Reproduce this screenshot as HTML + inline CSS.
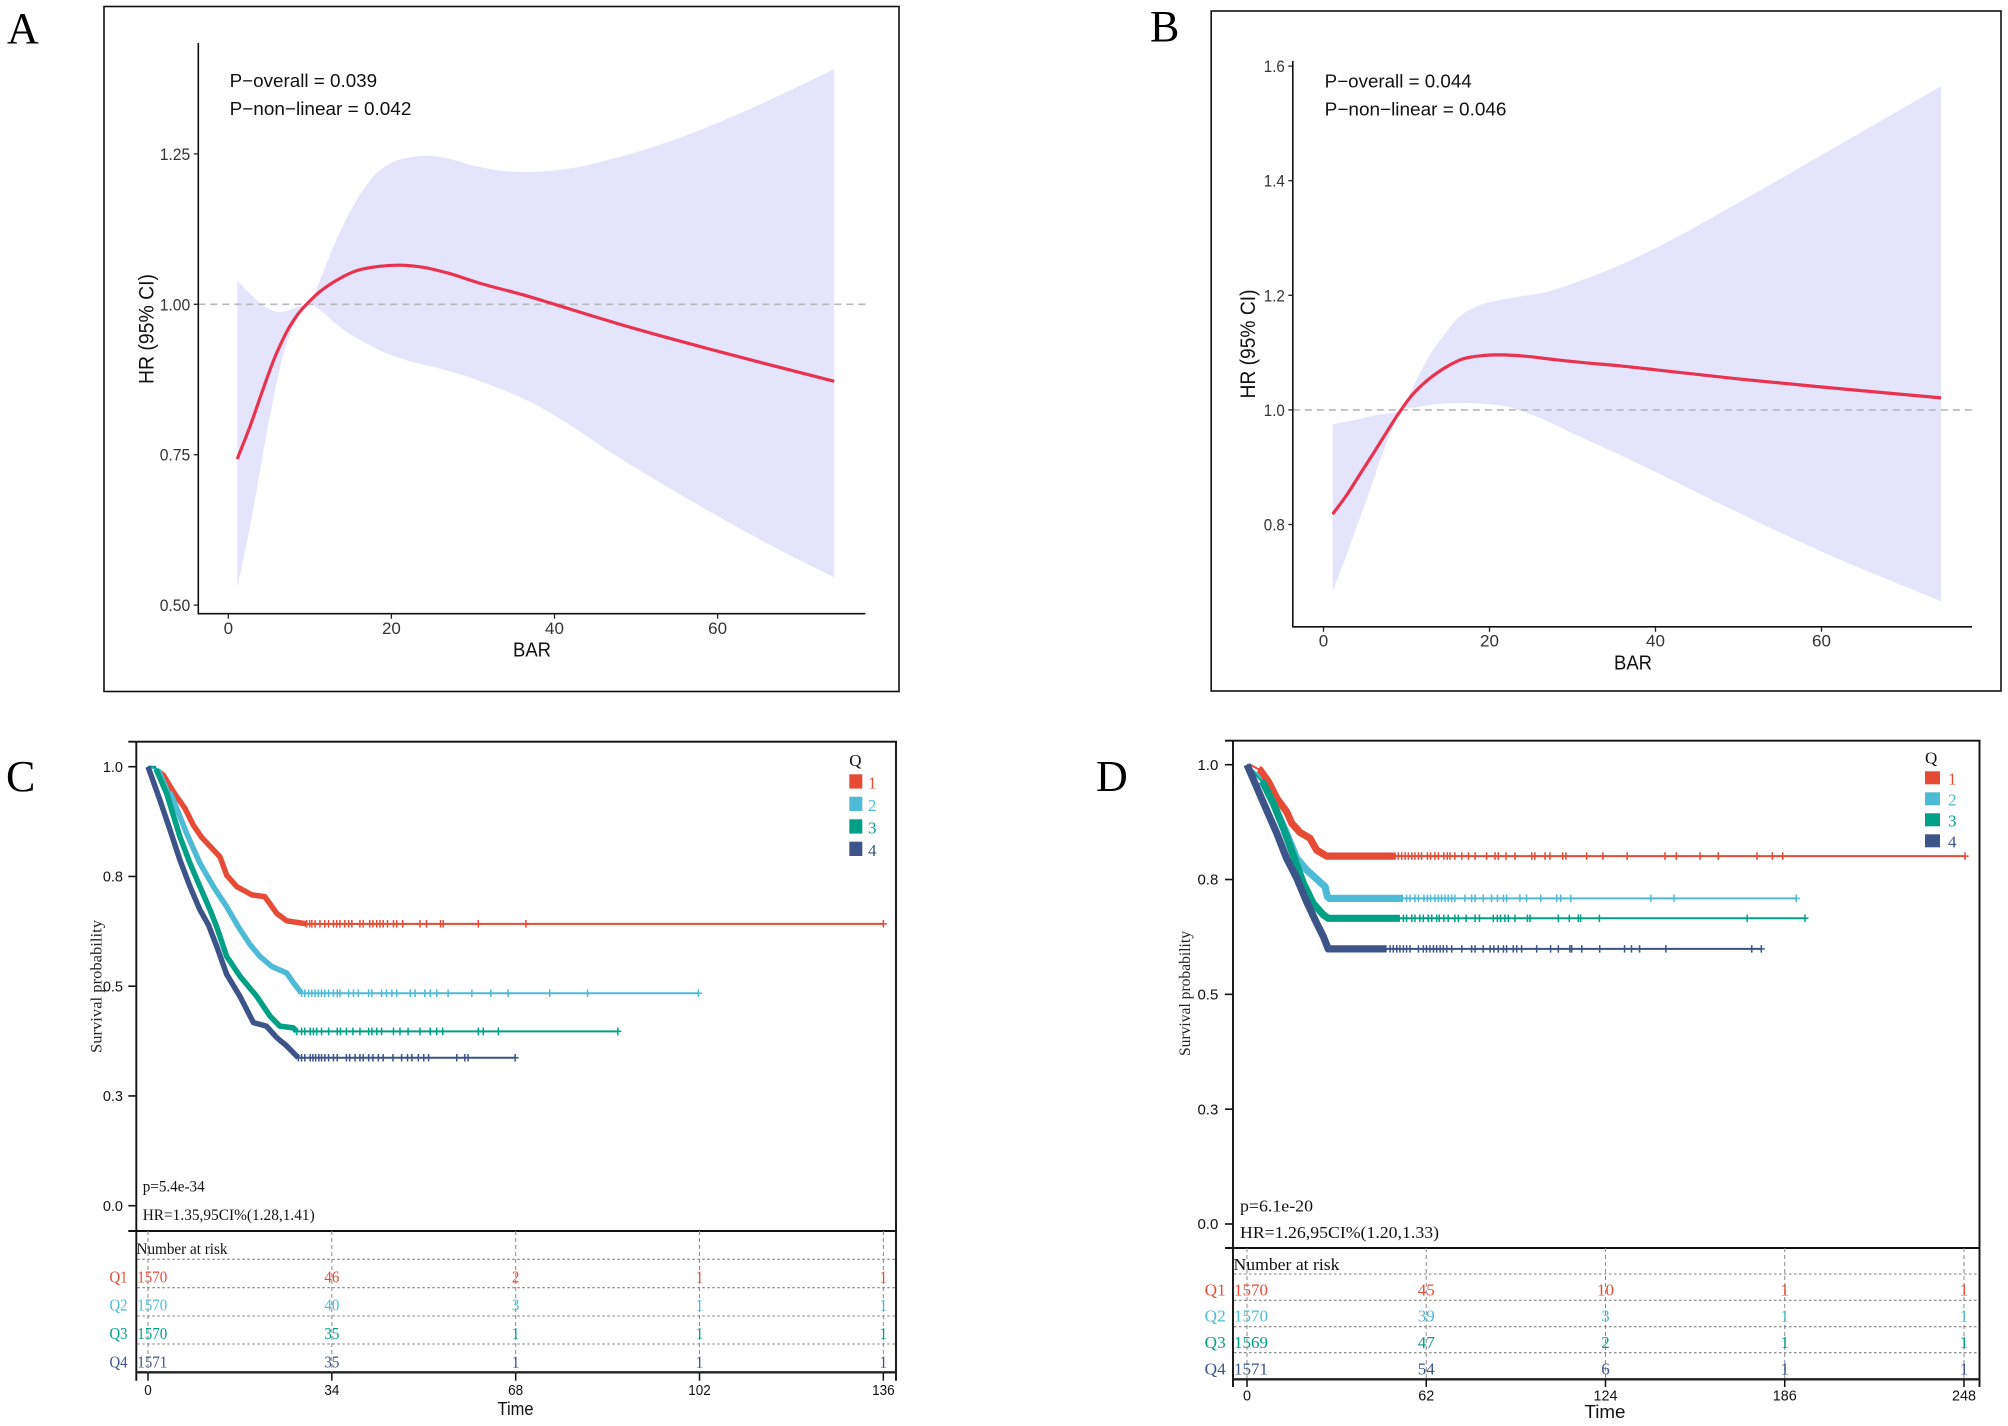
<!DOCTYPE html>
<html lang="en">
<head>
<meta charset="utf-8">
<title>Restricted cubic spline and Kaplan-Meier panels</title>
<style>
html,body{margin:0;padding:0;background:#fff;}
svg{display:block;}
.sans{font-family:"Liberation Sans",Arial,sans-serif;}
.serif{font-family:"Liberation Serif","Times New Roman",serif;}
</style>
</head>
<body>
<svg id="figure" xmlns="http://www.w3.org/2000/svg" width="2008" height="1426" viewBox="0 0 2008 1426">
<rect x="0" y="0" width="2008" height="1426" fill="#fff"/>

<text class="serif" x="7" y="43" font-size="44" fill="#000">A</text>
<text class="serif" x="1150" y="41" font-size="44" fill="#000">B</text>
<text class="serif" x="6" y="791" font-size="44" fill="#000">C</text>
<text class="serif" x="1096" y="791" font-size="44" fill="#000">D</text>

<rect x="104" y="6.5" width="795" height="685" fill="none" stroke="#111" stroke-width="1.6"/>
<rect x="1211.2" y="11" width="789.8" height="680" fill="none" stroke="#111" stroke-width="1.6"/>

<g id="panel-a"></g>
<g id="panel-b"></g>
<g id="panel-c"></g>
<g id="panel-d"></g>

<text class="sans" x="229.6" y="87" font-size="18.5" fill="#111" textLength="147.5" lengthAdjust="spacingAndGlyphs">P−overall = 0.039</text>
<text class="sans" x="229.6" y="115" font-size="18.5" fill="#111" textLength="181.8" lengthAdjust="spacingAndGlyphs">P−non−linear = 0.042</text>
<text class="sans" x="513" y="656.7" font-size="20" fill="#111" textLength="38" lengthAdjust="spacingAndGlyphs">BAR</text>
<text class="sans" transform="translate(153.7,384) rotate(-90)" x="0" y="0" font-size="21" fill="#111" textLength="110" lengthAdjust="spacingAndGlyphs">HR (95% CI)</text>

<text class="sans" x="1324.7" y="87.4" font-size="18.5" fill="#111" textLength="147" lengthAdjust="spacingAndGlyphs">P−overall = 0.044</text>
<text class="sans" x="1324.7" y="115.5" font-size="18.5" fill="#111" textLength="181.8" lengthAdjust="spacingAndGlyphs">P−non−linear = 0.046</text>
<text class="sans" x="1614" y="669.4" font-size="20" fill="#111" textLength="38" lengthAdjust="spacingAndGlyphs">BAR</text>
<text class="sans" transform="translate(1255,398.5) rotate(-90)" x="0" y="0" font-size="21" fill="#111" textLength="109" lengthAdjust="spacingAndGlyphs">HR (95% CI)</text>

<text class="serif" transform="translate(101.5,1053) rotate(-90)" x="0" y="0" font-size="16" fill="#222" textLength="133" lengthAdjust="spacingAndGlyphs">Survival probability</text>
<text class="serif" x="142.7" y="1191.7" font-size="16" fill="#111" textLength="62" lengthAdjust="spacingAndGlyphs">p=5.4e-34</text>
<text class="serif" x="142.7" y="1220" font-size="16" fill="#111" textLength="172" lengthAdjust="spacingAndGlyphs">HR=1.35,95CI%(1.28,1.41)</text>
<text class="serif" x="136.5" y="1254" font-size="16" fill="#111" textLength="91" lengthAdjust="spacingAndGlyphs">Number at risk</text>
<text class="sans" x="497.5" y="1415" font-size="18" fill="#111" textLength="36" lengthAdjust="spacingAndGlyphs">Time</text>
<text class="serif" x="849.3" y="766" font-size="17" fill="#111">Q</text>

<text class="serif" transform="translate(1190,1056) rotate(-90)" x="0" y="0" font-size="16" fill="#222" textLength="125" lengthAdjust="spacingAndGlyphs">Survival probability</text>
<text class="serif" x="1240" y="1211.7" font-size="17" fill="#111" textLength="73" lengthAdjust="spacingAndGlyphs">p=6.1e-20</text>
<text class="serif" x="1240" y="1238" font-size="17" fill="#111" textLength="199" lengthAdjust="spacingAndGlyphs">HR=1.26,95CI%(1.20,1.33)</text>
<text class="serif" x="1233.5" y="1270" font-size="17" fill="#111" textLength="106" lengthAdjust="spacingAndGlyphs">Number at risk</text>
<text class="sans" x="1584.5" y="1418" font-size="18" fill="#111" textLength="41" lengthAdjust="spacingAndGlyphs">Time</text>
<text class="serif" x="1925" y="763.3" font-size="17" fill="#111">Q</text>
</svg>

<script>
/* ---------- Panel A data ---------- */
const aXTicks = [0, 20, 40, 60];
const aYTicks = [0.5, 0.75, 1, 1.25];
const aYTickLabels = ['0.50', '0.75', '1.00', '1.25'];
const aLineX = [1.1, 2.66, 4.29, 5.93, 7.57, 8.79, 9.81, 11.24, 13.29, 15.75, 18.2, 21.05, 23.9, 26.77, 30.86, 36.99, 40, 50, 60, 74.3];
const aLineY = [0.743, 0.797, 0.86, 0.919, 0.964, 0.988, 1.003, 1.021, 1.04, 1.056, 1.0625, 1.065, 1.0615, 1.0525, 1.035, 1.0125, 1.0, 0.959, 0.922, 0.872];
const aUpperX = [1.1, 2.66, 4.29, 6.25, 7.97, 9.81, 11.24, 12.88, 14.52, 16.55, 18.6, 20.65, 22.69, 24.33, 26.78, 29.64, 32.91, 36.99, 42, 48, 55, 62, 68, 74.3];
const aUpperY = [1.039, 1.018, 0.998, 0.987, 0.993, 1.003, 1.04, 1.096, 1.143, 1.19, 1.223, 1.239, 1.245, 1.247, 1.243, 1.232, 1.223, 1.22, 1.226, 1.245, 1.275, 1.313, 1.35, 1.391];
const aLowerX = [1.1, 2.26, 3.48, 4.71, 5.93, 7.16, 8.39, 9.81, 11.24, 12.88, 14.52, 16.55, 19, 21.88, 25.14, 28.82, 32.91, 36.99, 41, 47, 53.4, 60, 66, 74.3];
const aLowerY = [0.53, 0.603, 0.691, 0.786, 0.869, 0.935, 0.974, 1.0005, 0.9905, 0.971, 0.954, 0.938, 0.921, 0.907, 0.896, 0.882, 0.862, 0.838, 0.807, 0.753, 0.7, 0.648, 0.603, 0.546];

/* ---------- Panel B data ---------- */
const bXTicks = [0, 20, 40, 60];
const bYTicks = [0.8, 1, 1.2, 1.4, 1.6];
const bYTickLabels = ['0.8', '1.0', '1.2', '1.4', '1.6'];
const bLineX = [1.1, 2.8, 4.4, 6, 7.6, 9.2, 10.8, 12.8, 14.8, 16.8, 19.3, 21.5, 24.1, 27.7, 31.7, 35.7, 40, 50, 60, 74.4];
const bLineY = [0.818, 0.8515, 0.888, 0.924, 0.961, 0.997, 1.028, 1.055, 1.075, 1.089, 1.095, 1.096, 1.094, 1.088, 1.082, 1.077, 1.07, 1.054, 1.04, 1.021];
const bUpperX = [1.1, 3.6, 6.4, 9.2, 10.4, 11.6, 13.2, 14.8, 16.4, 18.5, 20.9, 23.7, 26.9, 30.1, 32.9, 35, 40.1, 49.8, 60.3, 74.4];
const bUpperY = [0.975, 0.982, 0.991, 1.0, 1.029, 1.064, 1.105, 1.136, 1.163, 1.181, 1.191, 1.198, 1.206, 1.221, 1.236, 1.248, 1.283, 1.36, 1.447, 1.565];
const bLowerX = [1.1, 2.4, 4, 5.6, 7.2, 8.4, 9.4, 11.2, 13.6, 16.8, 19.7, 22.5, 25.7, 29.7, 35.7, 39.4, 49.8, 60.3, 74.4];
const bLowerY = [0.684, 0.732, 0.796, 0.86, 0.927, 0.971, 1.0, 1.0045, 1.01, 1.012, 1.01, 1.0045, 0.988, 0.9615, 0.9215, 0.896, 0.822, 0.751, 0.666];

/* ---------- Panel C data ---------- */
const cXTicks = [0, 34, 68, 102, 136];
const cYTicks = [0, 0.25, 0.5, 0.75, 1];
const cYTickLabels = ['0.0', '0.3', '0.5', '0.8', '1.0'];
const cQ1Time = [0, 0.68, 2.83, 4.68, 6.84, 8.38, 9.93, 13.3, 14.55, 16.4, 19.2, 21.6, 23.8, 25.65, 29.35];
const cQ1Surv = [1, 1, 0.981, 0.943, 0.905, 0.867, 0.839, 0.795, 0.753, 0.727, 0.708, 0.704, 0.666, 0.649, 0.642];
const cQ2Time = [0, 2.2, 4.68, 7.15, 9.6, 12.1, 14.55, 16.7, 18.87, 20.7, 22.87, 25.65, 26.9, 28.4];
const cQ2Surv = [1, 0.9925, 0.924, 0.848, 0.78, 0.727, 0.681, 0.6355, 0.595, 0.568, 0.545, 0.53, 0.508, 0.484];
const cQ3Time = [0, 1.3, 3.45, 5.9, 7.77, 9.6, 11.47, 12.7, 14.55, 17, 20.1, 22.56, 24.4, 26.9, 27.5];
const cQ3Surv = [1, 1, 0.939, 0.8406, 0.78, 0.727, 0.674, 0.6355, 0.568, 0.523, 0.477, 0.432, 0.409, 0.405, 0.397];
const cQ4Time = [0, 2.2, 4.07, 5.92, 7.77, 9.6, 11.2, 12.7, 14.55, 17, 19.5, 21.9, 23.8, 25.65, 27.8];
const cQ4Surv = [1, 0.924, 0.856, 0.787, 0.727, 0.674, 0.639, 0.591, 0.527, 0.477, 0.417, 0.409, 0.383, 0.364, 0.337];
const cQ1Censor = [29.35, 29.9, 30.3, 30.9, 31.8, 32.7, 33.4, 34.3, 34.9, 35.5, 36.4, 37.1, 37.7, 39.2, 39.8, 41, 41.6, 42.3, 42.9, 43.5, 44.3, 45.4, 46, 47.1, 50.3, 51.5, 54.1, 54.6, 61.1, 69.9, 136];
const cQ2Censor = [28.4, 29, 29.7, 30.3, 30.9, 31.5, 32.1, 32.7, 33.4, 34.3, 35, 35.5, 37.1, 38, 38.9, 40.8, 41.4, 43.2, 44.1, 45.1, 46, 48.5, 49.4, 51.2, 52.2, 53.4, 55.5, 59.9, 63.4, 66.6, 74.3, 81.3, 101.8];
const cQ3Censor = [27.5, 28.4, 29, 30, 30.6, 31.2, 32.1, 33.4, 35, 35.6, 36.7, 37.9, 39.2, 40.8, 41.4, 42.3, 43.2, 45.4, 46.6, 48.1, 50.3, 52.2, 53.4, 54.5, 61.1, 62, 64.8, 86.9];
const cQ4Censor = [27.8, 28.4, 29, 30, 30.5, 31, 31.6, 32.1, 32.7, 33.4, 34.3, 35, 36.7, 37.3, 38.3, 39.2, 39.8, 40.8, 41.6, 42.6, 43.5, 45.3, 46.9, 48, 48.8, 50, 51, 51.9, 57.1, 58.6, 59.2, 67.9];
const cDenseStart = [2, 4, 1.5, 0];
const cDenseEnd = [29.35, 28.4, 27.5, 27.8];
const cRiskQ1 = [1570, 46, 2, 1, 1];
const cRiskQ2 = [1570, 40, 3, 1, 1];
const cRiskQ3 = [1570, 35, 1, 1, 1];
const cRiskQ4 = [1571, 35, 1, 1, 1];

/* ---------- Panel D data ---------- */
const dXTicks = [0, 62, 124, 186, 248];
const dYTicks = [0, 0.25, 0.5, 0.75, 1];
const dYTickLabels = ['0.0', '0.3', '0.5', '0.8', '1.0'];
const dQ1Time = [0, 1.1, 4.5, 7.4, 10.3, 13.7, 15.5, 18.3, 21.8, 24.1, 27.6];
const dQ1Surv = [1, 1, 0.9885, 0.963, 0.927, 0.8977, 0.8724, 0.8528, 0.8397, 0.814, 0.801];
const dQ2Time = [0, 4.5, 9.1, 13.7, 17.2, 20.6, 24.1, 27, 27.8, 28.5];
const dQ2Surv = [1, 0.974, 0.916, 0.8506, 0.796, 0.771, 0.751, 0.7345, 0.7127, 0.709];
const dQ3Time = [0, 5.65, 9.1, 12.6, 16, 19.5, 22.9, 26.4, 28.1];
const dQ3Surv = [1, 0.9595, 0.916, 0.8615, 0.803, 0.742, 0.698, 0.673, 0.6656];
const dQ4Time = [0, 3.3, 6.8, 10.3, 13.7, 17.2, 20.6, 24.1, 26.4, 28.1];
const dQ4Surv = [1, 0.952, 0.901, 0.851, 0.796, 0.753, 0.702, 0.655, 0.626, 0.599];
const dQ1Censor = [52.3, 53.5, 54.7, 55.8, 57, 58.1, 59.3, 60.4, 62.4, 63.5, 65, 66.2, 68.1, 69.3, 70.2, 71.9, 74.3, 76.6, 78.9, 82.9, 85.8, 86.9, 89.6, 92.7, 98.5, 99.6, 103.1, 104.8, 109.2, 110.3, 117.5, 123.1, 131.5, 144.6, 148.5, 156.7, 163, 176.4, 181.7, 185.3, 248.4];
const dQ2Censor = [55.2, 56.4, 58.1, 59.3, 61.2, 62.4, 63.5, 65, 66.2, 67.3, 68.5, 69.6, 70.8, 71.9, 75.4, 77.7, 78.9, 81.7, 84.6, 86.6, 88.7, 89.8, 94.4, 96.7, 101.6, 107.1, 108.5, 112, 139.7, 147.7, 190];
const dQ3Censor = [54.1, 55.2, 57, 58.1, 59.8, 61, 62.7, 63.9, 65.6, 66.5, 68.1, 69.6, 71.9, 73.1, 75.8, 78.9, 80.4, 85.2, 86.6, 87.7, 89.2, 90.4, 92.7, 97, 97.9, 107.7, 111.5, 114.6, 115.4, 121.9, 173, 193];
const dQ4Censor = [49.5, 50.6, 51.8, 52.9, 54.1, 55.2, 56.4, 59.3, 61, 62.1, 63.3, 64.5, 65.6, 66.8, 67.9, 69.1, 70.8, 74.3, 77.7, 78.9, 81.7, 84.1, 85.4, 86.9, 88.7, 89.8, 92.1, 93.3, 95, 100.2, 105, 107.7, 111.7, 112.3, 115.8, 122, 130.6, 133, 135.8, 144.9, 174.6, 177.9];
const dDenseStart = [4, 7, 5, 0];
const dDenseEnd = [51.5, 54, 52.9, 48.3];
const dRiskQ1 = [1570, 45, 10, 1, 1];
const dRiskQ2 = [1570, 39, 3, 1, 1];
const dRiskQ3 = [1569, 47, 2, 1, 1];
const dRiskQ4 = [1571, 54, 6, 1, 1];

/* ---------- Shared categories ---------- */
const groupKeys = ['1', '2', '3', '4'];
const groupRowLabels = ['Q1', 'Q2', 'Q3', 'Q4'];

/* ---------- Helpers ---------- */
const NS = 'http://www.w3.org/2000/svg';
const GROUP_COLORS = ['#E64B35', '#4DBBD5', '#00A087', '#3C5488'];
const SANS = '"Liberation Sans", Arial, sans-serif';
const SERIF = '"Liberation Serif", "Times New Roman", serif';

function svgEl(parent, tag, attrs, text) {
  const el = document.createElementNS(NS, tag);
  for (const k in attrs) el.setAttribute(k, attrs[k]);
  if (text !== undefined) el.textContent = text;
  parent.appendChild(el);
  return el;
}

function linearScale(anchorPx, anchorValue, pxPerUnit) {
  return v => anchorPx + (v - anchorValue) * pxPerUnit;
}

/* Non-uniform Catmull-Rom: tangents weighted by knot spacing so uneven samples do not kink */
function smoothPath(pts) {
  const n = pts.length;
  const tan = pts.map((p, i) => {
    if (i === 0) return [(pts[1][0] - p[0]), (pts[1][1] - p[1])];
    if (i === n - 1) return [(p[0] - pts[i - 1][0]), (p[1] - pts[i - 1][1])];
    const a = pts[i - 1];
    const b = pts[i + 1];
    const d1 = Math.hypot(p[0] - a[0], p[1] - a[1]) || 1;
    const d2 = Math.hypot(b[0] - p[0], b[1] - p[1]) || 1;
    return [
      ((p[0] - a[0]) / d1 * d2 + (b[0] - p[0]) / d2 * d1) / (d1 + d2),
      ((p[1] - a[1]) / d1 * d2 + (b[1] - p[1]) / d2 * d1) / (d1 + d2)
    ];
  });
  let d = 'M' + pts[0][0].toFixed(2) + ' ' + pts[0][1].toFixed(2);
  for (let i = 0; i < n - 1; i++) {
    const p1 = pts[i];
    const p2 = pts[i + 1];
    const seg = Math.hypot(p2[0] - p1[0], p2[1] - p1[1]);
    const s1 = i === 0 ? 1 / 3 : seg / 3;
    const s2 = i === n - 2 ? 1 / 3 : seg / 3;
    d += 'C' + (p1[0] + tan[i][0] * s1).toFixed(2) + ' ' + (p1[1] + tan[i][1] * s1).toFixed(2) + ' ' +
         (p2[0] - tan[i + 1][0] * s2).toFixed(2) + ' ' + (p2[1] - tan[i + 1][1] * s2).toFixed(2) + ' ' +
         p2[0].toFixed(2) + ' ' + p2[1].toFixed(2);
  }
  return d;
}

function toPoints(xArr, yArr, xs, ys) {
  return xArr.map((x, i) => [xs(x), ys(yArr[i])]);
}

function survivalAt(times, surv, t) {
  if (t >= times[times.length - 1]) return surv[surv.length - 1];
  for (let i = 0; i < times.length - 1; i++) {
    if (t <= times[i + 1]) {
      const f = (t - times[i]) / (times[i + 1] - times[i]);
      return surv[i] + f * (surv[i + 1] - surv[i]);
    }
  }
  return surv[0];
}

/* ---------- Spline panels ---------- */
function drawSpline(p) {
  const g = document.getElementById(p.id);
  const band = svgEl(g, 'path', {
    d: smoothPath(toPoints(p.upperX, p.upperY, p.xs, p.ys)) + 'L' +
       smoothPath(toPoints(p.lowerX, p.lowerY, p.xs, p.ys).reverse()).slice(1) + 'Z',
    fill: '#E4E4FC', stroke: 'none'
  });
  
  

  const ref = svgEl(g, 'line', {
    x1: p.axisLeft, x2: p.axisRight, y1: p.ys(1), y2: p.ys(1),
    stroke: '#b9b9b9', 'stroke-width': 1.6, 'stroke-dasharray': '7 5'
  });
  
  

  const line = svgEl(g, 'path', {
    d: smoothPath(toPoints(p.lineX, p.lineY, p.xs, p.ys)),
    fill: 'none', stroke: '#E8324E', 'stroke-width': 3.2, 'stroke-linecap': 'butt'
  });
  
  

  const yAxis = svgEl(g, 'line', {
    x1: p.axisLeft, x2: p.axisLeft, y1: p.axisTop, y2: p.axisBottom + 0.8, stroke: '#111', 'stroke-width': 1.6
  });
  
  

  const xAxis = svgEl(g, 'line', {
    x1: p.axisLeft, x2: p.axisRight, y1: p.axisBottom, y2: p.axisBottom, stroke: '#111', 'stroke-width': 1.6
  });
  
  

  p.xTicks.forEach(v => {
    const tick = svgEl(g, 'line', {
      x1: p.xs(v), x2: p.xs(v), y1: p.axisBottom, y2: p.axisBottom + 5, stroke: '#222', 'stroke-width': 1.3
    });
    
    
    const label = svgEl(g, 'text', {
      x: p.xs(v), y: p.xTickBaseline, 'text-anchor': 'middle', 'font-family': SANS, 'font-size': 17, fill: '#333'
    }, String(v));
    
    
  });

  p.yTicks.forEach((v, i) => {
    const tick = svgEl(g, 'line', {
      x1: p.axisLeft - 4.5, x2: p.axisLeft, y1: p.ys(v), y2: p.ys(v), stroke: '#222', 'stroke-width': 1.3
    });
    
    
    const label = svgEl(g, 'text', {
      x: p.axisLeft - 8, y: p.ys(v) + 6, 'text-anchor': 'end', 'font-family': SANS, 'font-size': 17, fill: '#333',
      textLength: p.yLabelWidth, lengthAdjust: 'spacingAndGlyphs'
    }, p.yLabels[i]);
    
    
  });
}

/* ---------- Survival panels ---------- */
function drawSurvival(p) {
  const g = document.getElementById(p.id);

  p.series.forEach((s, i) => {
    const lastT = s.censor[s.censor.length - 1];
    const pts = s.time.map((t, k) => [p.xs(t), p.ys(s.surv[k])]);
    const endY = p.ys(survivalAt(s.time, s.surv, lastT));

    const thin = svgEl(g, 'path', {
      d: 'M' + pts.map(q => q[0].toFixed(2) + ' ' + q[1].toFixed(2)).join('L') + 'L' + p.xs(lastT).toFixed(2) + ' ' + endY.toFixed(2),
      fill: 'none', stroke: GROUP_COLORS[i], 'stroke-width': 2
    });
    
    

    const denseTimes = [s.denseStart].concat(s.time.filter(t => t > s.denseStart && t < s.denseEnd), [s.denseEnd]);
    const dense = svgEl(g, 'path', {
      d: 'M' + denseTimes.map(t => p.xs(t).toFixed(2) + ' ' + p.ys(survivalAt(s.time, s.surv, t)).toFixed(2)).join('L'),
      fill: 'none', stroke: GROUP_COLORS[i], 'stroke-width': p.denseWidth, 'stroke-linejoin': 'round', 'stroke-linecap': 'butt'
    });
    
    

    s.censor.forEach(t => {
      const x = p.xs(t);
      const y = p.ys(survivalAt(s.time, s.surv, t));
      const mark = svgEl(g, 'path', {
        d: 'M' + (x - 3.5).toFixed(2) + ' ' + y.toFixed(2) + 'H' + (x + 3.5).toFixed(2) + 'M' + x.toFixed(2) + ' ' + (y - 3.8).toFixed(2) + 'V' + (y + 3.8).toFixed(2),
        fill: 'none', stroke: GROUP_COLORS[i], 'stroke-width': 1.5
      });
      
      
    });
  });

  const frameAttrs = { fill: 'none', stroke: '#111', 'stroke-width': 1.9 };

  const leftAxis = svgEl(g, 'line', Object.assign({ x1: p.left, x2: p.left, y1: p.top, y2: p.tickBottom }, frameAttrs));
  
  

  const rightEdge = svgEl(g, 'line', Object.assign({ x1: p.right, x2: p.right, y1: p.top, y2: p.tickBottom }, frameAttrs));
  
  

  const topEdge = svgEl(g, 'line', Object.assign({ x1: p.left - 8, x2: p.right + 1, y1: p.top, y2: p.top }, frameAttrs));
  
  

  const separator = svgEl(g, 'line', Object.assign({ x1: p.left - 8, x2: p.right + 1, y1: p.sepY, y2: p.sepY }, frameAttrs));
  
  

  const riskBottom = svgEl(g, 'line', { x1: p.left, x2: p.right, y1: p.riskBottom, y2: p.riskBottom, stroke: '#222', 'stroke-width': 2.4 });
  
  

  p.yTicks.forEach((v, i) => {
    const tick = svgEl(g, 'line', { x1: p.left - 8, x2: p.left, y1: p.ys(v), y2: p.ys(v), stroke: '#111', 'stroke-width': 1.6 });
    
    
    const label = svgEl(g, 'text', {
      x: p.yLabelRight, y: p.ys(v) + 5.2, 'text-anchor': 'end', 'font-family': SANS, 'font-size': p.yFont, fill: '#111'
    }, p.yLabels[i]);
    
    
  });

  p.xTicks.forEach(v => {
    const grid = svgEl(g, 'line', {
      x1: p.xs(v), x2: p.xs(v), y1: p.sepY, y2: p.riskBottom, stroke: '#8a8a8a', 'stroke-width': 1, 'stroke-dasharray': '4 3'
    });
    
    
    const tick = svgEl(g, 'line', { x1: p.xs(v), x2: p.xs(v), y1: p.riskBottom, y2: p.tickBottom, stroke: '#111', 'stroke-width': 1.5 });
    
    
    const text = String(v);
    const label = svgEl(g, 'text', {
      x: p.xs(v), y: p.xTickBaseline, 'text-anchor': 'middle', 'font-family': SANS, 'font-size': 14.5, fill: '#111',
      textLength: text.length * p.xDigit, lengthAdjust: 'spacingAndGlyphs'
    }, text);
    
    
  });

  p.rowLines.forEach(y => {
    const row = svgEl(g, 'line', { x1: p.left + 1, x2: p.right - 1, y1: y, y2: y, stroke: '#7f7f7f', 'stroke-width': 1.1, 'stroke-dasharray': '2.5 2.5' });
    
    
  });

  p.risk.forEach((values, r) => {
    const rowLabel = svgEl(g, 'text', {
      x: p.rowLabelX, y: p.rowBase[r], 'font-family': SERIF, 'font-size': p.riskFont, fill: GROUP_COLORS[r],
      textLength: p.rowLabelWidth, lengthAdjust: 'spacingAndGlyphs'
    }, groupRowLabels[r]);
    
    

    values.forEach((n, c) => {
      const text = String(n);
      const cell = svgEl(g, 'text', {
        x: c === 0 ? p.left + 1 : p.xs(p.xTicks[c]),
        y: p.rowBase[r],
        'text-anchor': c === 0 ? 'start' : 'middle',
        'font-family': SERIF, 'font-size': p.riskFont, fill: GROUP_COLORS[r],
        textLength: text.length * p.riskDigit, lengthAdjust: 'spacingAndGlyphs'
      }, text);
      
      
    });
  });

  groupKeys.forEach((key, i) => {
    const swatch = svgEl(g, 'rect', {
      x: p.legendX, y: p.legendY[i], width: p.legendW, height: p.legendH, fill: GROUP_COLORS[i]
    });
    
    
    const label = svgEl(g, 'text', {
      x: p.legendTextX, y: p.legendY[i] + p.legendH, 'font-family': SERIF, 'font-size': 17, fill: GROUP_COLORS[i]
    }, key);
    
    
  });
}

/* ---------- Render ---------- */
drawSpline({
  id: 'panel-a', xs: linearScale(228.3, 0, 8.155), ys: linearScale(304.3, 1, -601.6),
  axisLeft: 198.3, axisRight: 865.4, axisTop: 43, axisBottom: 613.7, xTickBaseline: 634,
  yLabelWidth: 30.6, xTicks: aXTicks, yTicks: aYTicks, yLabels: aYTickLabels,
  lineX: aLineX, lineY: aLineY, upperX: aUpperX, upperY: aUpperY, lowerX: aLowerX, lowerY: aLowerY
});
drawSpline({
  id: 'panel-b', xs: linearScale(1323.5, 0, 8.3), ys: linearScale(409.9, 1, -573),
  axisLeft: 1292.8, axisRight: 1972, axisTop: 61, axisBottom: 626.8, xTickBaseline: 646.7,
  yLabelWidth: 21, xTicks: bXTicks, yTicks: bYTicks, yLabels: bYTickLabels,
  lineX: bLineX, lineY: bLineY, upperX: bUpperX, upperY: bUpperY, lowerX: bLowerX, lowerY: bLowerY
});
drawSurvival({
  id: 'panel-c', xs: linearScale(148, 0, 5.407), ys: linearScale(1205.7, 0, -439),
  left: 136.3, right: 896, top: 741.7, sepY: 1231, riskBottom: 1372.3, tickBottom: 1380.7,
  xTickBaseline: 1395, xDigit: 7.5, yLabelRight: 123, yFont: 14.5, denseWidth: 5.5,
  xTicks: cXTicks, yTicks: cYTicks, yLabels: cYTickLabels,
  rowLines: [1259.3, 1287.7, 1316, 1344], rowBase: [1282.7, 1310.7, 1339, 1367.3],
  rowLabelX: 109.5, rowLabelWidth: 18, riskFont: 16.5, riskDigit: 7.5,
  risk: [cRiskQ1, cRiskQ2, cRiskQ3, cRiskQ4],
  legendX: 849.3, legendY: [774.3, 796.7, 819.3, 841.7], legendW: 13, legendH: 14.3, legendTextX: 868,
  series: [
    { time: cQ1Time, surv: cQ1Surv, censor: cQ1Censor, denseStart: cDenseStart[0], denseEnd: cDenseEnd[0] },
    { time: cQ2Time, surv: cQ2Surv, censor: cQ2Censor, denseStart: cDenseStart[1], denseEnd: cDenseEnd[1] },
    { time: cQ3Time, surv: cQ3Surv, censor: cQ3Censor, denseStart: cDenseStart[2], denseEnd: cDenseEnd[2] },
    { time: cQ4Time, surv: cQ4Surv, censor: cQ4Censor, denseStart: cDenseStart[3], denseEnd: cDenseEnd[3] }
  ]
});
drawSurvival({
  id: 'panel-d', xs: linearScale(1247, 0, 2.891), ys: linearScale(1224, 0, -459.3),
  left: 1233, right: 1979.5, top: 740.7, sepY: 1248, riskBottom: 1379.3, tickBottom: 1387,
  xTickBaseline: 1400.7, xDigit: 8, yLabelRight: 1218.3, yFont: 15, denseWidth: 7.2,
  xTicks: dXTicks, yTicks: dYTicks, yLabels: dYTickLabels,
  rowLines: [1274, 1300.3, 1326.7, 1352.7], rowBase: [1295.7, 1321.7, 1348, 1374.3],
  rowLabelX: 1204.7, rowLabelWidth: 21, riskFont: 17, riskDigit: 8.5,
  risk: [dRiskQ1, dRiskQ2, dRiskQ3, dRiskQ4],
  legendX: 1925, legendY: [771.3, 792.3, 813.3, 834.3], legendW: 15, legendH: 13, legendTextX: 1948,
  series: [
    { time: dQ1Time, surv: dQ1Surv, censor: dQ1Censor, denseStart: dDenseStart[0], denseEnd: dDenseEnd[0] },
    { time: dQ2Time, surv: dQ2Surv, censor: dQ2Censor, denseStart: dDenseStart[1], denseEnd: dDenseEnd[1] },
    { time: dQ3Time, surv: dQ3Surv, censor: dQ3Censor, denseStart: dDenseStart[2], denseEnd: dDenseEnd[2] },
    { time: dQ4Time, surv: dQ4Surv, censor: dQ4Censor, denseStart: dDenseStart[3], denseEnd: dDenseEnd[3] }
  ]
});
</script>
</body>
</html>
